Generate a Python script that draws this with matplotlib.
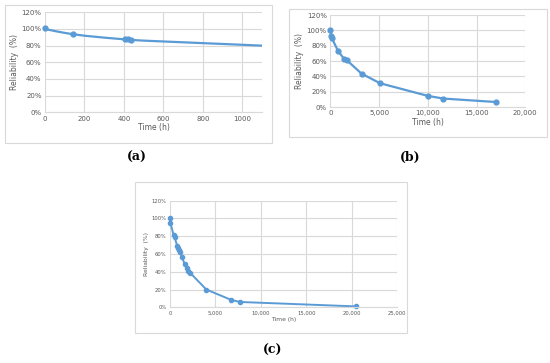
import matplotlib
matplotlib.use('Agg')
import matplotlib.pyplot as plt
from matplotlib.patches import Rectangle
from matplotlib.ticker import FuncFormatter, PercentFormatter

# (a) observed points and fitted curve
a_time = [0, 140, 405, 420, 435]
a_rel = [101, 94.5, 88, 87.5, 87]
a_fit_time = [0, 50, 100, 140, 200, 300, 400, 440, 500, 600, 700, 800, 900, 1000, 1100]
a_fit_rel = [100, 97.5, 95.3, 93.8, 91.9, 89.6, 87.6, 86.8, 86.0, 85.0, 84.0, 83.0, 82.0, 81.0, 80.0]

# (b)
b_time = [0, 100, 150, 800, 1400, 1700, 3200, 5100, 10000, 11600, 17000]
b_rel = [100, 92, 90, 73, 63, 61, 43.5, 31, 14.5, 11, 6.5]

# (c)
c_time = [0, 50, 400, 500, 800, 900, 1000, 1100, 1300, 1600, 1900, 2000, 2200,
          4000, 6700, 7700, 20500]
c_rel = [100, 95, 81, 79, 69, 67, 65, 62, 57, 49, 44, 41, 39, 20, 8.5, 6, 1]

BLUE = '#5B9BD5'
GRID = '#D9D9D9'
TXT = '#595959'

fig = plt.figure(figsize=(5.5, 3.63), dpi=100)


def box(x0, y0, x1, y1):
    # chart-area frame, pixel coords from top-left
    fig.patches.append(Rectangle((x0 / 550, 1 - y1 / 363), (x1 - x0) / 550, (y1 - y0) / 363,
                                 transform=fig.transFigure, fill=False,
                                 edgecolor='#D9D9D9', linewidth=0.8))


def style(ax, fs):
    ax.set_ylim(0, 120)
    ax.set_yticks(range(0, 121, 20))
    ax.yaxis.set_major_formatter(PercentFormatter(decimals=0))
    ax.grid(True, color=GRID, linewidth=0.8)
    ax.set_axisbelow(True)
    for s in ['top', 'right', 'left']:
        ax.spines[s].set_visible(False)
    ax.spines['bottom'].set_color(GRID)
    ax.tick_params(length=0, labelsize=fs, colors=TXT, pad=2.5)
    ax.set_xlabel('Time (h)', fontsize=fs + 0.5, color=TXT, labelpad=1)
    ax.set_ylabel('Reliability  (%)', fontsize=fs + 0.5, color=TXT, labelpad=2)


box(5, 5, 272, 143)
box(289, 9, 547, 137)
box(135, 182, 407, 333)

ax_a = fig.add_axes([45 / 550, 1 - 112.3 / 363, 217 / 550, 100 / 363])
ax_a.plot(a_fit_time, a_fit_rel, color=BLUE, linewidth=1.6)
ax_a.plot(a_time, a_rel, 'o', color=BLUE, markersize=3.5, clip_on=False)
ax_a.set_xlim(0, 1100)
ax_a.set_xticks(range(0, 1001, 200))
style(ax_a, 5)

thousands = FuncFormatter(lambda v, p: f'{int(v):,}')

ax_b = fig.add_axes([330.3 / 550, 1 - 107 / 363, 195 / 550, 92 / 363])
ax_b.plot(b_time, b_rel, '-o', color=BLUE, linewidth=1.6, markersize=3.5, clip_on=False)
ax_b.set_xlim(0, 20000)
ax_b.set_xticks(range(0, 20001, 5000))
ax_b.xaxis.set_major_formatter(thousands)
style(ax_b, 5)

ax_c = fig.add_axes([170 / 550, 1 - 307.3 / 363, 227 / 550, 106.6 / 363])
ax_c.plot(c_time, c_rel, '-o', color=BLUE, linewidth=1.4, markersize=3, clip_on=False)
ax_c.set_xlim(0, 25000)
ax_c.set_xticks(range(0, 25001, 5000))
ax_c.xaxis.set_major_formatter(thousands)
style(ax_c, 3.8)

cap = dict(fontsize=9, fontweight='bold', family='DejaVu Serif', ha='center', va='center')
fig.text(137 / 550, 1 - 157 / 363, '(a)', **cap)
fig.text(410 / 550, 1 - 157 / 363, '(b)', **cap)
fig.text(273 / 550, 1 - 350 / 363, '(c)', **cap)

fig.savefig('out.png', dpi=100)
